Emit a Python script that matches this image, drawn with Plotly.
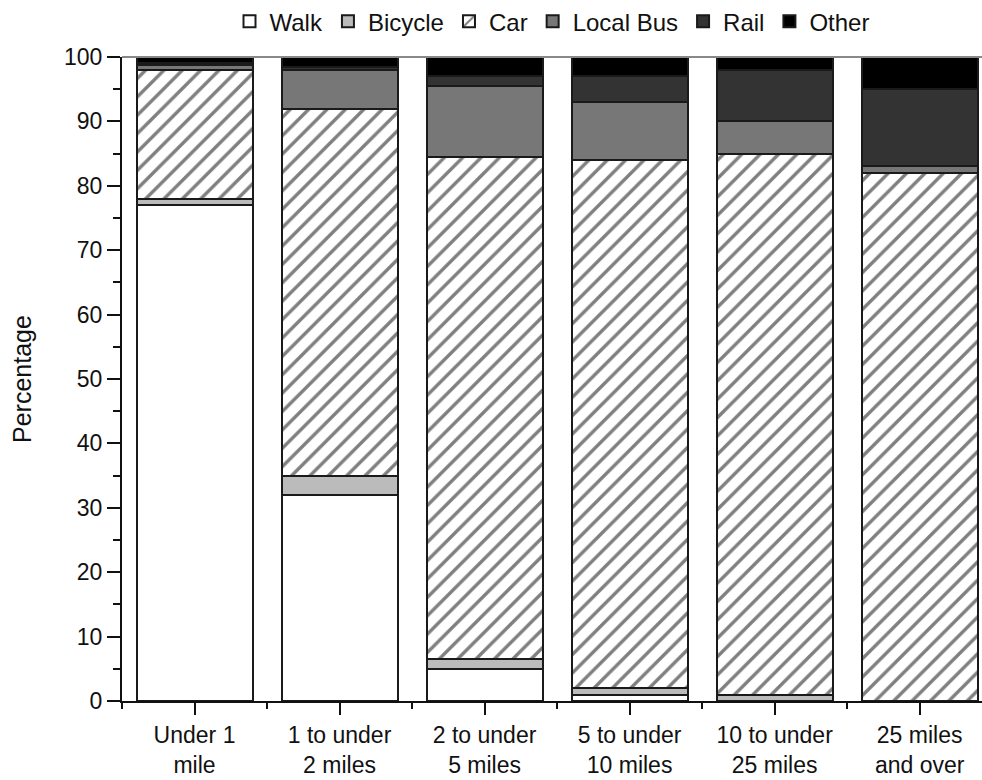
import plotly.graph_objects as go

categories = ["Under 1<br>mile", "1 to under<br>2 miles", "2 to under<br>5 miles",
              "5 to under<br>10 miles", "10 to under<br>25 miles", "25 miles<br>and over"]
walk = [77, 32, 5, 1, 0, 0]
bicycle = [1, 3, 1.5, 1, 1, 0]
car = [20, 57, 78, 82, 84, 82]
local_bus = [0.8, 6, 11, 9, 5, 1]
rail = [0.2, 0.5, 1.5, 4, 8, 12]
other = [1, 1.5, 3, 3, 2, 5]

series = [
    ("Walk", walk, dict(color="#ffffff")),
    ("Bicycle", bicycle, dict(color="#bbbbbb")),
    ("Car", car, dict(color="#ffffff", pattern=dict(shape="/", size=13, solidity=0.26,
                                                    fgcolor="#000000", bgcolor="#ffffff",
                                                    fillmode="overlay"))),
    ("Local Bus", local_bus, dict(color="#777777")),
    ("Rail", rail, dict(color="#333333")),
    ("Other", other, dict(color="#000000")),
]

x = list(range(len(categories)))
fig = go.Figure()
for name, vals, mk in series:
    mk = dict(mk)
    mk["line"] = dict(color="#1a1a1a", width=2)
    fig.add_trace(go.Bar(name=name, x=x, y=vals, width=0.8, marker=mk))

font = "Liberation Sans, Arial, sans-serif"
fig.update_layout(
    barmode="stack",
    width=982, height=780,
    margin=dict(l=122, r=0, t=57, b=79, autoexpand=False),
    plot_bgcolor="white", paper_bgcolor="white",
    font=dict(family=font, size=22, color="#111111"),
    legend=dict(orientation="h", x=0.5, xanchor="center", y=1.02, yanchor="bottom",
                font=dict(size=24), traceorder="normal",
                bgcolor="rgba(0,0,0,0)"),
)
fig.update_xaxes(
    range=[-0.5, 5.43], tickmode="array", tickvals=x, ticktext=categories,
    showline=True, linecolor="#111111", linewidth=2, mirror=False, automargin=False,
    ticks="outside", ticklen=12, tickwidth=2, tickcolor="#111111",
    minor=dict(tickmode="array", tickvals=[-0.5, 0.5, 1.5, 2.5, 3.5, 4.5],
               ticks="outside", ticklen=6, tickwidth=2, tickcolor="#111111"),
    showgrid=False, zeroline=False, tickfont=dict(size=23),
)
fig.update_yaxes(
    range=[0, 100], dtick=10, showline=True, linecolor="#111111", linewidth=2,
    ticks="outside", ticklen=13, tickwidth=2, tickcolor="#111111", automargin=False,
    minor=dict(dtick=5, ticks="outside", ticklen=7, tickwidth=2, tickcolor="#111111"),
    showgrid=False, zeroline=False, tickfont=dict(size=23),
)
fig.add_annotation(text="Percentage", xref="paper", yref="paper", x=-0.1163, y=0.5,
                   textangle=-90, showarrow=False, font=dict(size=25),
                   xanchor="center", yanchor="middle")
# top border line
fig.add_shape(type="line", xref="paper", yref="paper", x0=0, x1=1, y0=1, y1=1,
              line=dict(color="#888888", width=2), layer="above")

fig.write_html("out.html", config={"displayModeBar": False},
               post_script="document.body.style.margin='0';document.body.style.overflow='hidden';")
